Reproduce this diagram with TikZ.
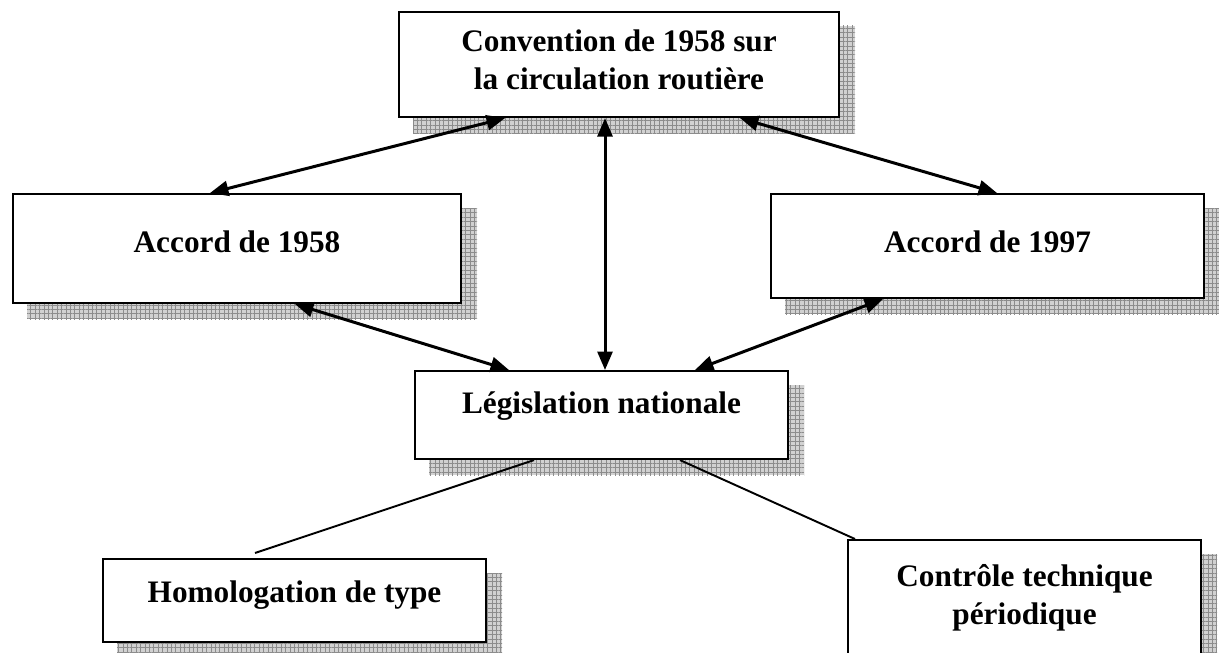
\documentclass[tikz,border=0pt]{standalone}
\usepackage{fontspec}
\setmainfont{Liberation Serif}
\usetikzlibrary{arrows.meta}
\usetikzlibrary{calc}
\usetikzlibrary{backgrounds}
\usetikzlibrary{patterns.meta}

\begin{document}
\begin{tikzpicture}[x=0.02cm, y=-0.02cm,
    box/.style={draw, line width=1.2pt, fill=white, inner sep=0pt, anchor=north west,
        align=center, font=\fontsize{17.8}{21.5}\selectfont\bfseries},
    link/.style={arrows={Triangle[length=10.5pt, width=8.5pt]-Triangle[length=10.5pt, width=8.5pt]}, line width=1.7pt},
    tie/.style={line width=1.1pt},
    grid shadow/.style={preaction={fill=black!18}, pattern={Hatch[distance=2.5pt, line width=0.35pt]}, pattern color=black!45}]
\useasboundingbox (0, 0) rectangle (1219, 652);
\node[box, minimum width=8.8cm, text height=1.54cm, text depth=0.56cm] (conv) at (398, 11) {Convention de 1958 sur\\la circulation routière};
\node[box, minimum width=8.96cm, text height=1.16cm, text depth=1.02cm] (acc58) at (12, 193) {Accord de 1958};
\node[box, minimum width=8.66cm, text height=1.16cm, text depth=0.92cm] (acc97) at (770, 193) {Accord de 1997};
\node[box, minimum width=7.46cm, text height=0.84cm, text depth=0.92cm] (leg) at (414, 370) {Législation nationale};
\node[box, minimum width=7.66cm, text height=0.86cm, text depth=0.80cm] (hom) at (102, 558) {Homologation de type};
\node[box, minimum width=7.06cm, text height=1.68cm, text depth=1.14cm] (ctrl) at (847, 539) {Contrôle technique\\périodique};
% shadows
\begin{scope}[on background layer]
    \foreach \n in {conv, acc58, acc97, leg, hom, ctrl}
        \fill[grid shadow] ($(\n.north west)+(15, 15)$) rectangle ($(\n.south east)+(15, 15)$);
\end{scope}
\draw[link] ($(conv.south west)+(107, 0)$) -- ($(acc58.north west)+(198, 0)$);
\draw[link] ($(conv.south west)+(342, 0)$) -- ($(acc97.north west)+(227, 0)$);
\draw[link] ($(conv.south west)+(207, 0)$) -- ($(leg.north west)+(191, 0)$);
\draw[link] ($(acc58.south west)+(283, 0)$) -- ($(leg.north west)+(95, 0)$);
\draw[link] ($(acc97.south west)+(113, 0)$) -- ($(leg.north west)+(281, 0)$);
\draw[tie] ($(leg.south west)+(120, 0)$) -- ($(hom.north west)+(153, -5)$);
\draw[tie] ($(leg.south west)+(266, 0)$) -- ($(ctrl.north west)+(8, 0)$);
\end{tikzpicture}
\end{document}
